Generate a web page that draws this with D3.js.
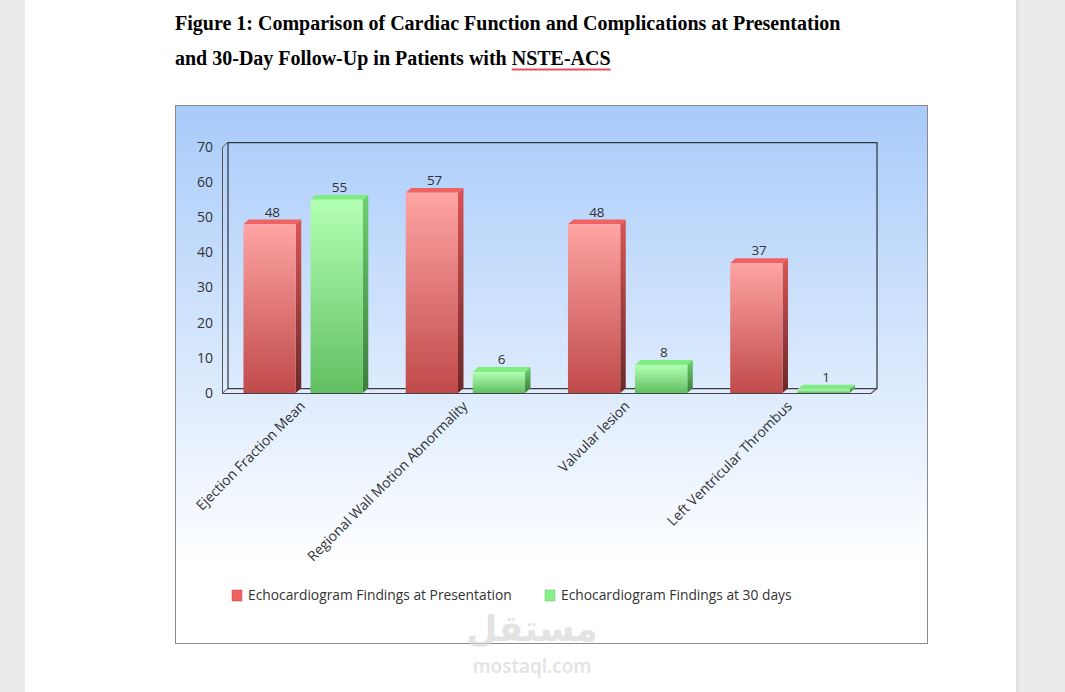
<!DOCTYPE html>
<html>
<head>
<meta charset="utf-8">
<script src="https://cdn.jsdelivr.net/npm/d3@7/dist/d3.min.js"></script>
<style>
  html, body { margin: 0; padding: 0; background: #ebebeb; }
  svg { display: block; }
</style>
</head>
<body>
<svg id="chart" width="1065" height="692"></svg>
<script>
// ---------------- DATA ----------------
const titleLine1 = "Figure 1: Comparison of Cardiac Function and Complications at Presentation";
const titleLine2a = "and 30-Day Follow-Up in Patients with ";
const titleLine2b = "NSTE-ACS";
const categories = ["Ejection Fraction Mean", "Regional Wall Motion Abnormality", "Valvular lesion", "Left Ventricular Thrombus"];
const seriesNames = ["Echocardiogram Findings at Presentation", "Echocardiogram Findings at 30 days"];
const presentationValues = [48, 57, 48, 37];
const day30Values = [55, 6, 8, 1];
const yTicks = [0, 10, 20, 30, 40, 50, 60, 70];

// ---------------- LAYOUT ----------------
const svg = d3.select("#chart");
const W = 1065, H = 692;
const font = "'Open Sans', 'Noto Sans', sans-serif";
const serif = "'Liberation Serif', 'Times New Roman', serif";
const defs = svg.append("defs");

// page
svg.append("rect").attr("x", 0).attr("y", 0).attr("width", W).attr("height", H).attr("fill", "#ebebeb");
svg.append("rect").attr("x", 25).attr("y", 0).attr("width", 991).attr("height", H).attr("fill", "#ffffff");
svg.append("rect").attr("x", 1016).attr("y", 0).attr("width", 3).attr("height", H).attr("fill", "#e2e2e2");

// title
svg.append("text").attr("x", 175).attr("y", 30)
  .attr("font-family", serif).attr("font-weight", "bold").attr("font-size", 20).attr("fill", "#000")
  .text(titleLine1);
const t2 = svg.append("text").attr("x", 175).attr("y", 65).attr("xml:space", "preserve")
  .attr("font-family", serif).attr("font-weight", "bold").attr("font-size", 20).attr("fill", "#000");
t2.append("tspan").text(titleLine2a);
t2.append("tspan").text(titleLine2b);
{
  const n = t2.node();
  const i0 = titleLine2a.length;
  const i1 = titleLine2a.length + titleLine2b.length - 1;
  const sx = n.getStartPositionOfChar(i0).x;
  const ex = n.getEndPositionOfChar(i1).x;
  svg.append("line").attr("x1", sx).attr("x2", ex)
    .attr("y1", 69.5).attr("y2", 69.5).attr("stroke", "#e8505c").attr("stroke-width", 2);
}

// chart box with gradient
const bgGrad = defs.append("linearGradient").attr("id", "bgGrad")
  .attr("x1", 0).attr("y1", 0).attr("x2", 0).attr("y2", 1);
bgGrad.append("stop").attr("offset", "0%").attr("stop-color", "#a8cbfa");
bgGrad.append("stop").attr("offset", "86%").attr("stop-color", "#ffffff");
bgGrad.append("stop").attr("offset", "100%").attr("stop-color", "#ffffff");
svg.append("rect").attr("x", 175.5).attr("y", 105.5).attr("width", 752).attr("height", 538)
  .attr("fill", "url(#bgGrad)").attr("stroke", "#8a8a8a").attr("stroke-width", 1);

// scales
const x0 = 222, x1 = 871, yBase = 393, yTop = 147;
const dx = 5.5, dy = -4.8;
const x = d3.scaleBand().domain(categories).range([x0, x1]).paddingInner(0).paddingOuter(0);
const xs = d3.scaleBand().domain([0, 1]).range([0, x.bandwidth()]).paddingInner(0.22).paddingOuter(0.32);
const y = d3.scaleLinear().domain([0, 70]).range([yBase, yTop]);

// walls
const g = svg.append("g");
g.append("rect").attr("x", x0 + dx + 0.5).attr("y", y(70) + dy + 0.5)
  .attr("width", x1 - x0).attr("height", y(0) - y(70))
  .attr("fill", "none").attr("stroke", "#111").attr("stroke-width", 1);
g.append("path").attr("d", `M${x0 + 0.5},${y(0)} L${x0 + 0.5},${y(70)} L${x0 + dx + 0.5},${y(70) + dy}`)
  .attr("fill", "none").attr("stroke", "#555").attr("stroke-width", 1);
g.append("path").attr("d", `M${x0},${y(0) + 0.5} L${x1},${y(0) + 0.5} L${x1 + dx},${y(0) + dy + 0.5}`)
  .attr("fill", "none").attr("stroke", "#555").attr("stroke-width", 1.2);
g.append("path").attr("d", `M${x0 + 0.5},${y(0)} L${x0 + dx + 0.5},${y(0) + dy}`)
  .attr("fill", "none").attr("stroke", "#555").attr("stroke-width", 1);

// y ticks
svg.append("g").selectAll("text").data(yTicks).join("text")
  .attr("x", 213).attr("y", d => y(d)).attr("dy", "0.35em")
  .attr("text-anchor", "end").attr("font-family", font).attr("font-size", 14)
  .attr("fill", "#333").text(d => d);

// gradients for bars
const palettes = [
  { front: ["#ffa4a4", "#c04a4a"], side: ["#dc5454", "#6a2828"], top: "#f06262" },
  { front: ["#b4ffb4", "#60bf60"], side: ["#6cd26c", "#3c7c3c"], top: "#7fec7f" }
];
palettes.forEach((p, i) => {
  const gf = defs.append("linearGradient").attr("id", "front" + i).attr("x1", 0).attr("y1", 0).attr("x2", 0).attr("y2", 1);
  gf.append("stop").attr("offset", "0%").attr("stop-color", p.front[0]);
  gf.append("stop").attr("offset", "100%").attr("stop-color", p.front[1]);
  const gs = defs.append("linearGradient").attr("id", "side" + i).attr("x1", 0).attr("y1", 0).attr("x2", 0).attr("y2", 1);
  gs.append("stop").attr("offset", "0%").attr("stop-color", p.side[0]);
  gs.append("stop").attr("offset", "100%").attr("stop-color", p.side[1]);
});

const seriesVals = [presentationValues, day30Values];
const barData = [];
categories.forEach((c, ci) => {
  seriesVals.forEach((vals, si) => {
    barData.push({ cat: c, s: si, v: vals[ci] });
  });
});

const bars = svg.append("g").selectAll("g").data(barData).join("g");
bars.each(function (d) {
  const gb = d3.select(this);
  const bx = x(d.cat) + xs(d.s);
  const bw = xs.bandwidth();
  const top = y(d.v);
  const bot = y(0);
  gb.append("path")
    .attr("d", `M${bx + bw},${top} L${bx + bw + dx},${top + dy} L${bx + bw + dx},${bot + dy} L${bx + bw},${bot} Z`)
    .attr("fill", `url(#side${d.s})`);
  gb.append("path")
    .attr("d", `M${bx},${top} L${bx + dx},${top + dy} L${bx + bw + dx},${top + dy} L${bx + bw},${top} Z`)
    .attr("fill", palettes[d.s].top);
  gb.append("rect").attr("x", bx).attr("y", top).attr("width", bw).attr("height", Math.max(0.5, bot - top))
    .attr("fill", `url(#front${d.s})`);
  gb.append("text").attr("x", bx + bw / 2 + dx / 2).attr("y", top + dy - 3)
    .attr("text-anchor", "middle").attr("font-family", font).attr("font-size", 13.5)
    .attr("fill", "#333").text(d.v);
});

svg.append("line").attr("x1", x0).attr("x2", x1).attr("y1", y(0) + 0.5).attr("y2", y(0) + 0.5)
  .attr("stroke", "#444").attr("stroke-width", 1.2);

// x labels
svg.append("g").selectAll("text").data(categories).join("text")
  .attr("transform", d => `translate(${x(d) + x.bandwidth() / 2 + 3},${407}) rotate(-45)`)
  .attr("text-anchor", "end").attr("font-family", font).attr("font-size", 13.9)
  .attr("fill", "#333").text(d => d);

// legend
const legendItems = [{ name: seriesNames[0], x: 232, c: "#f06060" }, { name: seriesNames[1], x: 545, c: "#88f088" }];
const lg = svg.append("g").selectAll("g").data(legendItems).join("g");
lg.append("rect").attr("x", d => d.x).attr("y", 590).attr("width", 10).attr("height", 11)
  .attr("fill", d => d.c).attr("stroke", d => d3.color(d.c).darker(0.6)).attr("stroke-width", 0.5);
lg.append("text").attr("x", d => d.x + 16).attr("y", 595.5).attr("dy", "0.35em")
  .attr("font-family", font).attr("font-size", 13.8).attr("fill", "#333").text(d => d.name);

// watermark
svg.append("text").attr("x", 532).attr("y", 641).attr("text-anchor", "middle")
  .attr("font-family", "'DejaVu Sans', sans-serif").attr("font-weight", "bold").attr("font-size", 36)
  .attr("fill", "#d8d8d8").attr("opacity", 0.7).text("مستقل");
svg.append("text").attr("x", 532).attr("y", 673).attr("text-anchor", "middle")
  .attr("font-family", font).attr("font-weight", 600).attr("font-size", 19)
  .attr("fill", "#d8d8d8").attr("opacity", 0.7).text("mostaql.com");
</script>
</body>
</html>
